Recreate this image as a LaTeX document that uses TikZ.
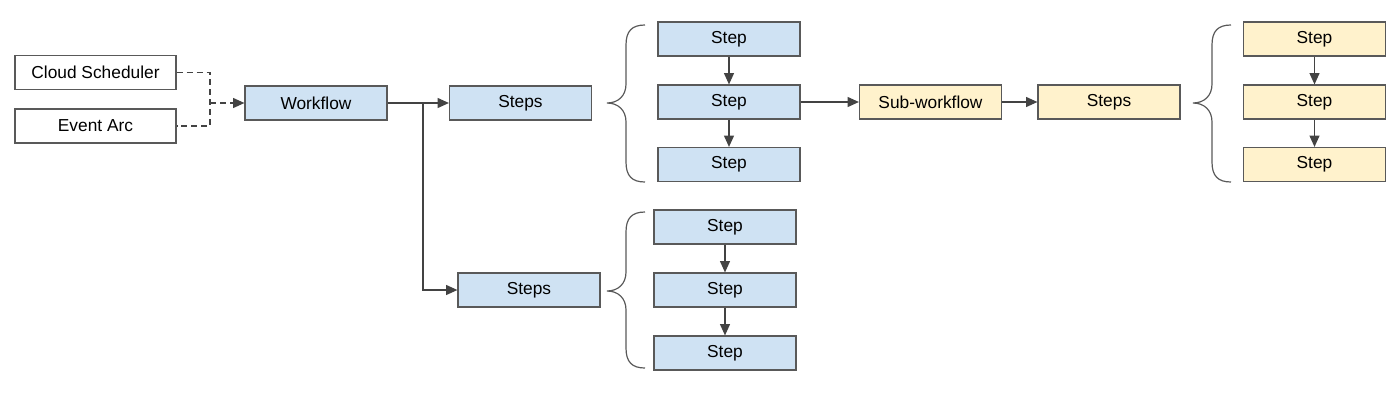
\documentclass[tikz,border=0pt]{standalone}
\usepackage{fontspec}
\setmainfont{Liberation Sans}
\usetikzlibrary{arrows.meta}
\definecolor{boxblue}{HTML}{CFE2F3}
\definecolor{boxyellow}{HTML}{FFF2CC}
\definecolor{edgegray}{HTML}{595959}
\definecolor{arrowgray}{HTML}{434343}
\tikzset{
  box/.style={draw=edgegray, line width=0.9pt, minimum width=106.5pt, minimum height=25.5pt, inner sep=0pt, font=\fontsize{13}{15}\selectfont},
  srcbox/.style={box, fill=white, minimum width=120.75pt},
  bluebox/.style={box, fill=boxblue},
  yellowbox/.style={box, fill=boxyellow},
  flow/.style={draw=arrowgray, line width=0.9pt, -{Triangle[length=8.5pt,width=7.5pt]}},
  link/.style={draw=arrowgray, line width=0.9pt},
  curly/.style={draw=edgegray, line width=0.9pt},
}
\begin{document}
\begin{tikzpicture}[x=0.75pt,y=0.75pt,yscale=-1,xscale=1]
\useasboundingbox (0,0) rectangle (1400,401);

% sources
\node [srcbox] (cloud) at (95.5,72.5) {Cloud Scheduler};
\node [srcbox] (event) at (95.5,126) {Event Arc};
\node [bluebox] (workflow) at (316,103) {Workflow};

% first branch
\node [bluebox] (steps1) at (520.5,103) {Steps};
\node [bluebox] (step11) at (729,39) {Step};
\node [bluebox] (step12) at (729,102) {Step};
\node [bluebox] (step13) at (729,164.5) {Step};

% sub-workflow
\node [yellowbox] (sub) at (930.5,102) {Sub-workflow};
\node [yellowbox] (ysteps) at (1109,102) {Steps};
\node [yellowbox] (ystep1) at (1314.5,39) {Step};
\node [yellowbox] (ystep2) at (1314.5,102) {Step};
\node [yellowbox] (ystep3) at (1314.5,164.5) {Step};

% second branch
\node [bluebox] (steps2) at (529,290) {Steps};
\node [bluebox] (step21) at (725,227) {Step};
\node [bluebox] (step22) at (725,290) {Step};
\node [bluebox] (step23) at (725,353) {Step};

% connectors
\coordinate (merge) at (210,103);
\coordinate (split) at (423,103);
\draw [link, dash pattern=on 4.5pt off 3pt] (cloud.east) -| (merge) |- (event.east);
\draw [flow, dash pattern=on 4.5pt off 3pt] (merge) -- (workflow.west);
\draw [flow] (workflow.east) -- (steps1.west);
\draw [flow] (split) |- (steps2.west);
\draw [flow] (step11) -- (step12);
\draw [flow] (step12) -- (step13);
\draw [flow] (step12.east) -- (sub.west);
\draw [flow] (sub) -- (ysteps);
\draw [flow] (ystep1) -- (ystep2);
\draw [flow] (ystep2) -- (ystep3);
\draw [flow] (step21) -- (step22);
\draw [flow] (step22) -- (step23);

% braces
\draw [curly] (645,25) .. controls (632,25) and (626,31) .. (626,45) -- (626,84) .. controls (626,96) and (618,103) .. (607,103) .. controls (618,103) and (626,110) .. (626,122) -- (626,162) .. controls (626,176) and (632,182) .. (645,182);
\draw [curly] (645,212) .. controls (632,212) and (626,218) .. (626,232) -- (626,272) .. controls (626,284) and (618,291) .. (607,291) .. controls (618,291) and (626,298) .. (626,310) -- (626,348) .. controls (626,362) and (632,368) .. (645,368);
\draw [curly] (1231,25) .. controls (1218,25) and (1212,31) .. (1212,45) -- (1212,84) .. controls (1212,96) and (1204,103) .. (1193,103) .. controls (1204,103) and (1212,110) .. (1212,122) -- (1212,162) .. controls (1212,176) and (1218,182) .. (1231,182);

\end{tikzpicture}
\end{document}
